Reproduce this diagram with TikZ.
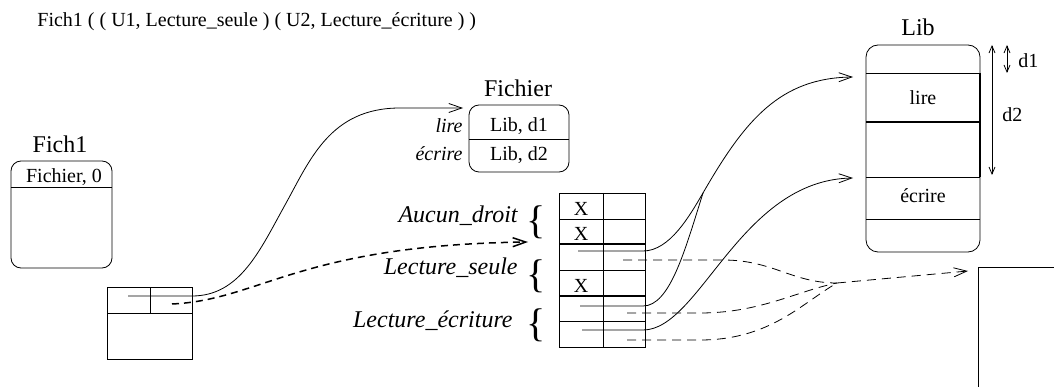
\documentclass[tikz,border=0pt]{standalone}
\usepackage{fontspec}
\setmainfont{Liberation Serif}
\usetikzlibrary{arrows.meta}

\tikzset{
  txt/.style={inner sep=0pt, font=\fontsize{20}{24}\selectfont},
  titlbl/.style={inner sep=0pt, font=\fontsize{24}{28}\selectfont},
  lbl/.style={inner sep=0pt, font=\fontsize{24}{28}\selectfont\itshape},
  brc/.style={inner sep=0pt, font=\fontsize{40}{44}\selectfont},
  ptr/.style={-{Straight Barb[length=13pt,width=9pt]}},
  dptr/.style={ptr, dash pattern=on 9pt off 6pt},
  dim/.style={{Straight Barb[length=7pt,width=6pt]}-{Straight Barb[length=7pt,width=6pt]}},
}

\begin{document}
\begin{tikzpicture}
    [x=1pt,y=-1pt,line width=0.8pt]
    \useasboundingbox (0,0) rectangle (1054,387);

    \node[txt,anchor=base west] (titre) at (37,27) {Fich1 ( ( U1, Lecture\_seule ) ( U2, Lecture\_écriture ) )};

    % Fich1
    \node[titlbl,anchor=base] (fich1lbl) at (60,153) {Fich1};
    \draw[rounded corners=10pt] (11,161) rectangle (112,268);
    \draw (11,187) -- (112,187);
    \node[txt,anchor=base] (fich1val) at (64,183) {Fichier, 0};

    \draw (107,287) rectangle (192,359);
    \draw (107,313) -- (192,313);
    \draw (150,287) -- (150,313);
    \coordinate (ptrF) at (128,296);
    \coordinate (ptrD) at (172,304);

    % Fichier
    \node[titlbl,anchor=base] (fichlbl) at (518,97) {Fichier};
    \draw[rounded corners=10pt] (469,105) rectangle (569,172);
    \draw (469,139) -- (569,139);
    \node[txt,anchor=base] (libd1) at (519,132) {Lib, d1};
    \node[txt,anchor=base] (libd2) at (519,161) {Lib, d2};
    \node[txt,anchor=base east] (lire) at (463,133) {\itshape lire};
    \node[txt,anchor=base east] (ecrire) at (463,161) {\itshape écrire};
    \coordinate (fichtip) at (463,108);
    \coordinate (fvia) at (285,205);

    % droits
    \node[lbl,anchor=base east] (aucun) at (518,223) {Aucun\_droit};
    \node[lbl,anchor=base east] (lseule) at (518,274) {Lecture\_seule};
    \node[lbl,anchor=base east] (lecr) at (513,327) {Lecture\_écriture};
    \node[brc] (b1) at (536,222) {\{};
    \node[brc] (b2) at (536,276) {\{};
    \node[brc] (b3) at (536,325) {\{};
    \coordinate (droittip) at (528,242);

    \draw (559,193) rectangle (645,347);
    \draw (603,193) -- (603,347);
    \foreach \y in {219,270,321}
    \draw (559,\y) -- (645,\y);
    \foreach \y in {244,296}
    \draw[line width=1.6pt] (559,\y) -- (645,\y);
    \foreach \y in {216,241,292}
    \node[txt,anchor=base] at (581,\y) {X};

    \coordinate (s3) at (578,251);
    \coordinate (s5) at (580,306);
    \coordinate (s6) at (582,330);
    \coordinate (d3) at (623,260);
    \coordinate (d5) at (627,313);
    \coordinate (d6) at (627,340);
    \coordinate (m1) at (703,193);
    \coordinate (m2) at (837,283);

    % Lib
    \node[titlbl,anchor=base] (liblbl) at (918,36) {Lib};
    \draw[rounded corners=12pt] (866,45) rectangle (980,252);
    \draw (866,73) -- (980,73);
    \draw[line width=1.4pt] (866,122) -- (980,122);
    \draw (866,177) -- (980,177);
    \draw (866,219) -- (980,219);
    \draw[line width=1.4pt] (980,73) -- (980,177);
    \node[txt,anchor=base] (lirelib) at (923,105) {lire};
    \node[txt,anchor=base] (ecrlib) at (923,203) {écrire};
    \coordinate (lirtip) at (853,77);
    \coordinate (ecrtip) at (853,178);

    \coordinate (d1a) at (1007,45);
    \coordinate (d1b) at (1007,73);
    \coordinate (d2a) at (992,45);
    \coordinate (d2b) at (992,175);
    \draw[dim] (d1a) -- (d1b);
    \draw[dim] (d2a) -- (d2b);
    \node[txt,anchor=base west] (d1) at (1018,68) {d1};
    \node[txt,anchor=base west] (d2) at (1002,122) {d2};

    \coordinate (zonetip) at (968,271);
    \draw (978,387) -- (978,267) -- (1054,267);

    % pointeurs
    \draw[ptr] (ptrF) -- ++(64,0) .. controls +(48,0) and +(-25,45) .. (fvia)
      .. controls +(25,-45) and +(-70,0) .. (400,108) -- (fichtip);
    \draw[ptr,line width=1.5pt,dash pattern=on 7pt off 5pt] (ptrD) .. controls +(88,-4) and +(-228,3) .. (droittip);

    \draw (s3) -- ++(65,0) .. controls +(27,0) and +(-13,22) .. (m1);
    \draw (s5) -- ++(63,0) .. controls +(27,0) and +(-18,57) .. (m1);
    \draw[ptr] (m1) .. controls +(42,-73) and +(-73,1) .. (lirtip);
    \draw[ptr] (s6) -- ++(61,0) .. controls +(57,0) and +(-113,2) .. (ecrtip);

    \draw[dash pattern=on 9pt off 6pt] (d3) -- ++(100,0) .. controls +(50,0) and +(-45,0) .. (m2);
    \draw[dash pattern=on 9pt off 6pt] (d5) -- ++(73,0) .. controls +(60,0) and +(-40,8) .. (m2);
    \draw[dash pattern=on 9pt off 6pt] (d6) -- ++(73,0) .. controls +(70,0) and +(-35,20) .. (m2);
    \draw[dptr] (m2) -- (zonetip);
\end{tikzpicture}
\end{document}
